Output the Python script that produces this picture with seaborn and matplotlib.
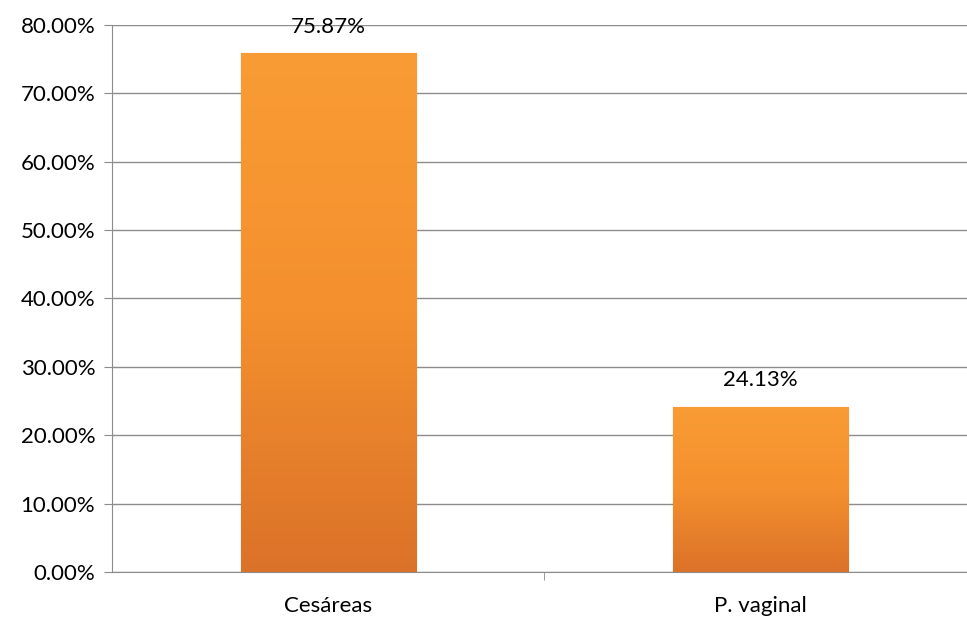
import numpy as np
import pandas as pd
import matplotlib
matplotlib.use('Agg')
import matplotlib.pyplot as plt
import seaborn as sns
from matplotlib.colors import LinearSegmentedColormap
from matplotlib.ticker import PercentFormatter

# Data
categories = ['Cesáreas', 'P. vaginal']
percentages = [75.87, 24.13]
value_labels = ['75.87%', '24.13%']

df = pd.DataFrame({'tipo': categories, 'pct': percentages})

sns.set_style("white")
plt.rcParams['font.family'] = ['Lato', 'DejaVu Sans']
plt.rcParams['text.color'] = 'black'

fig = plt.figure(figsize=(9.67, 6.2), dpi=100)
ax = fig.add_axes([0.1158, 0.0774, 0.8945, 0.8823])

sns.barplot(data=df, x='tipo', y='pct', ax=ax, color='#F0892E',
            width=0.405, edgecolor='#C9661F', linewidth=0.8, zorder=3)

# Vertical orange gradient inside each bar (light top, darker bottom)
grad_cmap = LinearSegmentedColormap.from_list('orange', ['#DB7229', '#F4902E', '#F99C35'])
grad = np.linspace(0, 1, 256).reshape(-1, 1)
for patch in ax.patches:
    x0, y0 = patch.get_x(), patch.get_y()
    w, h = patch.get_width(), patch.get_height()
    im = ax.imshow(grad, cmap=grad_cmap, origin='lower', aspect='auto',
                   extent=(x0, x0 + w, y0, y0 + h), zorder=3.5)
    im.set_clip_path(patch)

ax.set_xlim(-0.5, 1.5)
ax.set_ylim(0, 80)
ax.set_yticks(np.arange(0, 81, 10))
ax.yaxis.set_major_formatter(PercentFormatter(decimals=2))

ax.grid(axis='y', color='#8C8C8C', linewidth=1.0, zorder=0)
ax.set_axisbelow(True)

for side in ['top', 'right']:
    ax.spines[side].set_visible(False)
ax.spines['left'].set_color('#8C8C8C')
ax.spines['bottom'].set_color('#8C8C8C')

ax.tick_params(axis='y', direction='out', length=6, color='#8C8C8C',
               labelsize=16, labelcolor='black', left=True, pad=6)
ax.tick_params(axis='x', which='major', length=0, labelsize=16, pad=17,
               labelcolor='black')
ax.set_xticks([0.5], minor=True)
ax.tick_params(axis='x', which='minor', direction='out', length=6,
               color='#8C8C8C', bottom=True)

ax.set_xlabel('')
ax.set_ylabel('')

for container in ax.containers:
    ax.bar_label(container, labels=value_labels, padding=12, fontsize=16,
                 color='black')

fig.savefig('out.png', dpi=100)
